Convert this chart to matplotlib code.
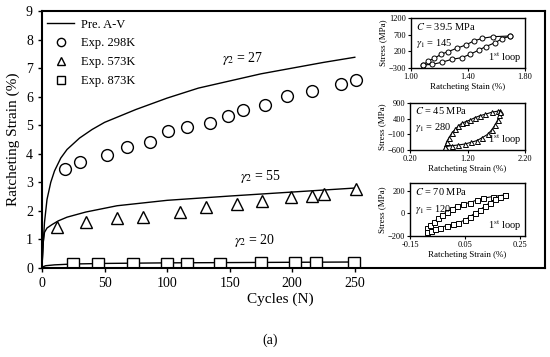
import matplotlib
matplotlib.use("Agg")
import matplotlib.pyplot as plt

plt.rcParams['font.family'] = ['Liberation Serif', 'DejaVu Serif']
plt.rcParams['mathtext.fontset'] = 'stix'

# ---- main chart data ----
pred27_x = [0, 1, 2, 4, 7, 10, 15, 20, 30, 40, 50, 75, 100, 125, 150, 175, 200, 225, 250]
pred27_y = [0.05, 0.9, 1.6, 2.4, 3.0, 3.4, 3.85, 4.15, 4.55, 4.85, 5.1, 5.55, 5.95, 6.3, 6.55, 6.8, 7.0, 7.2, 7.38]
pred55_x = [0, 1, 2, 4, 8, 13, 20, 35, 60, 100, 150, 200, 250]
pred55_y = [0.05, 0.9, 1.25, 1.4, 1.52, 1.65, 1.78, 1.96, 2.18, 2.37, 2.52, 2.66, 2.8]
pred20_x = [0, 3, 10, 25, 50, 100, 150, 200, 250]
pred20_y = [0.03, 0.08, 0.11, 0.14, 0.16, 0.18, 0.19, 0.2, 0.21]

exp298_x = [18, 30, 52, 68, 86, 101, 116, 134, 149, 161, 178, 196, 216, 239, 251]
exp298_y = [3.46, 3.7, 3.95, 4.23, 4.4, 4.8, 4.95, 5.08, 5.33, 5.55, 5.7, 6.02, 6.19, 6.43, 6.57]
exp573_x = [12, 35, 60, 81, 110, 131, 156, 176, 199, 216, 225, 251]
exp573_y = [1.43, 1.6, 1.75, 1.8, 1.96, 2.14, 2.25, 2.33, 2.48, 2.52, 2.59, 2.76]
exp873_x = [25, 45, 73, 100, 116, 142, 175, 202, 219, 249]
exp873_y = [0.13, 0.13, 0.14, 0.14, 0.15, 0.15, 0.16, 0.17, 0.17, 0.18]

main_xticks = [0, 50, 100, 150, 200, 250]
main_yticks = [0, 1, 2, 3, 4, 5, 6, 7, 8, 9]

# ---- inset data (1st loops) ----
in1_up_x = [1.086, 1.12, 1.164, 1.21, 1.26, 1.32, 1.384, 1.44, 1.50, 1.573, 1.695]
in1_up_y = [-210, -90, -10, 110, 190, 290, 390, 510, 590, 640, 660]
in1_lo_x = [1.086, 1.15, 1.215, 1.286, 1.356, 1.414, 1.477, 1.524, 1.59, 1.636, 1.695]
in1_lo_y = [-210, -190, -130, -40, 10, 110, 240, 340, 460, 570, 660]

in2_up_x = [0.809, 0.838, 0.878, 0.925, 0.983, 1.04, 1.099, 1.168, 1.243, 1.33, 1.417, 1.504, 1.62, 1.736, 1.765]
in2_up_y = [-494, -334, -206, -67, 61, 166, 252, 304, 358, 432, 496, 539, 603, 645, 650]
in2_lo_x = [0.809, 0.925, 1.04, 1.157, 1.26, 1.36, 1.457, 1.55, 1.62, 1.678, 1.725, 1.753, 1.765]
in2_lo_y = [-494, -462, -440, -408, -355, -302, -206, -100, 39, 198, 358, 517, 623]

in3_up_x = [-0.089, -0.077, -0.062, -0.047, -0.035, -0.017, 0.002, 0.02, 0.044, 0.068, 0.093, 0.117, 0.15, 0.195]
in3_up_y = [-132, -102, -73, -43, -13, 11, 37, 67, 84, 96, 120, 135, 150, 164]
in3_lo_x = [-0.089, -0.074, -0.059, -0.041, -0.017, 0.007, 0.026, 0.05, 0.068, 0.086, 0.105, 0.123, 0.141, 0.159, 0.177, 0.195]
in3_lo_y = [-162, -153, -141, -126, -108, -93, -82, -58, -28, 2, 31, 67, 96, 126, 144, 164]

W, H = 550, 357
fig = plt.figure(figsize=(5.5, 3.57), dpi=100)

def box(l, t, r, b):
    return [l / W, 1 - b / H, (r - l) / W, (b - t) / H]

ax = fig.add_axes(box(42, 11, 545, 268))
ax.plot(pred27_x, pred27_y, color='black', lw=1.0, label='Pre. A-V')
ax.plot(pred55_x, pred55_y, color='black', lw=1.0)
ax.plot(pred20_x, pred20_y, color='black', lw=1.0)
ax.plot(exp298_x, exp298_y, ls='none', marker='o', ms=8.5, mfc='white', mec='black', mew=1.0, label='Exp. 298K')
ax.plot(exp573_x, exp573_y, ls='none', marker='^', ms=9, mfc='white', mec='black', mew=1.0, label='Exp. 573K')
ax.plot(exp873_x, exp873_y, ls='none', marker='s', ms=8.5, mfc='white', mec='black', mew=1.0, label='Exp. 873K')

ax.set_xlim(0, 402)
ax.set_ylim(0, 9)
ax.set_xticks(main_xticks)
ax.set_yticks(main_yticks)
ax.tick_params(direction='out', length=3, width=1, labelsize=10)
for s in ax.spines.values():
    s.set_linewidth(1.5)
ax.set_ylabel('Ratcheting Strain (%)', fontsize=11)
ax.set_xlabel('Cycles (N)', fontsize=11)
ax.xaxis.set_label_coords(0.473, -0.095)

leg = ax.legend(loc='upper left', frameon=False, fontsize=9, handlelength=2.2,
                handletextpad=0.5, labelspacing=0.55, borderaxespad=0.2,
                markerscale=0.7, bbox_to_anchor=(-0.005, 1.0))

ax.text(160, 7.35, r'$\gamma_2$ = 27', fontsize=10, ha='center', va='center')
ax.text(175, 3.2, r'$\gamma_2$ = 55', fontsize=10, ha='center', va='center')
ax.text(170, 0.95, r'$\gamma_2$ = 20', fontsize=10, ha='center', va='center')

fig.text(270 / W, 1 - 340 / H, '(a)', fontsize=10, ha='center', va='center')

def inset(rect, upx, upy, lox, loy, marker, xlim, ylim, xt, yt, xlab, t1, t2, xfmt):
    a = fig.add_axes(rect)
    a.plot(upx, upy, color='black', lw=0.8, marker=marker, ms=3.6, mfc='white', mec='black', mew=0.7)
    a.plot(lox, loy, color='black', lw=0.8, marker=marker, ms=3.6, mfc='white', mec='black', mew=0.7)
    a.set_xlim(*xlim)
    a.set_ylim(*ylim)
    a.set_xticks(xt)
    a.set_xticklabels([xfmt.format(v) for v in xt])
    a.set_yticks(yt)
    a.tick_params(direction='out', length=2, width=0.8, labelsize=6, pad=1.5)
    for s in a.spines.values():
        s.set_linewidth(1.0)
    a.set_xlabel(xlab, fontsize=6.5, labelpad=1.5)
    a.set_ylabel('Stress (MPa)', fontsize=6.5, labelpad=1)
    a.text(0.04, 0.95, t1, transform=a.transAxes, fontsize=7.5, va='top', ha='left')
    a.text(0.04, 0.62, t2, transform=a.transAxes, fontsize=7.5, va='top', ha='left')
    a.text(0.97, 0.06, r'1$^{\mathrm{st}}$ loop', transform=a.transAxes, fontsize=7.5, va='bottom', ha='right')
    return a

inset(box(411, 18, 525, 68), in1_up_x, in1_up_y, in1_lo_x, in1_lo_y, 'o',
      (1.0, 1.8), (-300, 1200), [1.0, 1.4, 1.8], [-300, 200, 700, 1200],
      'Ratcheting Stain (%)', r'$C$ = 39.5 MPa', r'$\gamma_1$ = 145', '{:.2f}')
inset(box(410, 103, 525, 150), in2_up_x, in2_up_y, in2_lo_x, in2_lo_y, '^',
      (0.2, 2.2), (-600, 900), [0.2, 1.2, 2.2], [-600, -100, 400, 900],
      'Ratcheting Strain (%)', r'$C$ = 45 MPa', r'$\gamma_1$ = 280', '{:.2f}')
inset(box(410, 183, 525, 236), in3_up_x, in3_up_y, in3_lo_x, in3_lo_y, 's',
      (-0.15, 0.268), (-200, 270), [-0.15, 0.05, 0.25], [-200, 0, 200],
      'Ratcheting Strain (%)', r'$C$ = 70 MPa', r'$\gamma_1$ = 120', '{:.2f}')

fig.savefig('out.png', dpi=100)
